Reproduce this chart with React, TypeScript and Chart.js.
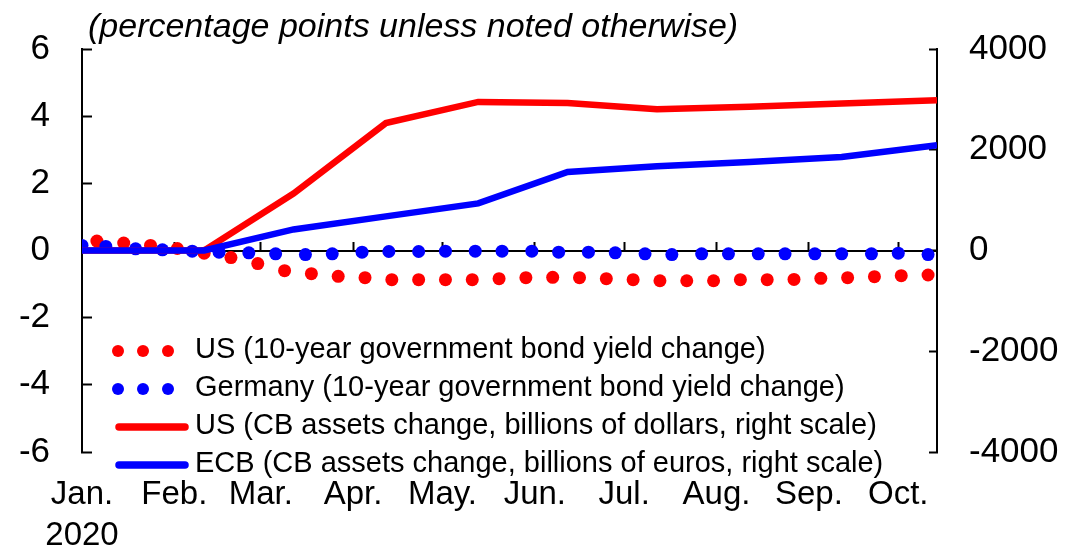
import React, { useEffect, useRef } from 'react';
import { Chart, registerables } from 'chart.js';

Chart.register(...registerables);

const FONT = '"Liberation Sans", Arial, Helvetica, sans-serif';

// X axis (days since 1 Jan 2020)
const monthStartDays = [0, 31, 60, 91, 121, 152, 182, 213, 244, 274];
const monthLabels = ['Jan.', 'Feb.', 'Mar.', 'Apr.', 'May.', 'Jun.', 'Jul.', 'Aug.', 'Sep.', 'Oct.'];
const yearLabel = '2020';
const xMinDay = 0;
const xMaxDay = 287;

// Axis ticks
const leftTicks = [-6, -4, -2, 0, 2, 4, 6];
const rightTicks = [-4000, -2000, 0, 2000, 4000];

const subtitle = '(percentage points unless noted otherwise)';

// US 10-year government bond yield change (percentage points)
const usYieldDays = [5, 14, 23, 32, 41, 50, 59, 68, 77, 86, 95, 104, 113, 122, 131, 140, 149, 158, 167, 176, 185, 194, 203, 212, 221, 230, 239, 248, 257, 266, 275, 284];
const usYieldChange = [0.28, 0.22, 0.15, 0.06, -0.08, -0.21, -0.39, -0.6, -0.69, -0.77, -0.81, -0.87, -0.87, -0.87, -0.87, -0.84, -0.81, -0.8, -0.81, -0.84, -0.87, -0.9, -0.9, -0.9, -0.87, -0.87, -0.86, -0.83, -0.81, -0.78, -0.75, -0.73];

// Germany 10-year government bond yield change (percentage points)
const deYieldDays = [0, 8, 18, 27, 37, 46, 56, 65, 75, 84, 94, 103, 113, 122, 132, 141, 151, 160, 170, 179, 189, 198, 208, 217, 227, 236, 246, 255, 265, 274, 284];
const deYieldChange = [0.15, 0.12, 0.05, 0.02, -0.02, -0.05, -0.07, -0.1, -0.12, -0.1, -0.05, -0.03, -0.03, -0.02, -0.02, -0.02, -0.02, -0.05, -0.05, -0.07, -0.1, -0.12, -0.1, -0.1, -0.1, -0.1, -0.1, -0.1, -0.1, -0.08, -0.12];

// Central bank assets change (right scale)
const cbDays = [0, 41, 71, 102, 133, 163, 193, 224, 255, 287];
const usCbAssetsChange = [0, 0, 1130, 2530, 2950, 2930, 2806, 2855, 2920, 2985];
const ecbAssetsChange = [0, 0, 418, 677, 935, 1559, 1672, 1757, 1857, 2090];

const seriesLabels = [
  'US (10-year government bond yield change)',
  'Germany (10-year government bond yield change)',
  'US (CB assets change, billions of dollars, right scale)',
  'ECB (CB assets change, billions of euros, right scale)',
];

const RED = '#ff0000';
const BLUE = '#0000ff';

const toPoints = (xs: number[], ys: number[]) => xs.map((x, i) => ({ x, y: ys[i] }));

const overlayPlugin = {
  id: 'overlay',
  afterDraw(chart: any) {
    const ctx = chart.ctx as CanvasRenderingContext2D;
    ctx.save();
    // subtitle
    ctx.fillStyle = '#000';
    ctx.font = `italic 34px ${FONT}`;
    ctx.textAlign = 'left';
    ctx.textBaseline = 'alphabetic';
    ctx.fillText(subtitle, 88, 37);

    // legend
    const rows = [351, 389, 427, 465];
    chart.data.datasets.forEach((ds: any, i: number) => {
      const y = rows[i];
      const color = ds.borderColor;
      if (ds.showLine === false) {
        ctx.fillStyle = color;
        [118, 143, 168].forEach((cx) => {
          ctx.beginPath();
          ctx.arc(cx, y, 6, 0, Math.PI * 2);
          ctx.fill();
        });
      } else {
        ctx.strokeStyle = color;
        ctx.lineWidth = 7.5;
        ctx.lineCap = 'round';
        ctx.beginPath();
        ctx.moveTo(119, y);
        ctx.lineTo(185, y);
        ctx.stroke();
      }
      ctx.fillStyle = '#000';
      ctx.font = `29px ${FONT}`;
      ctx.textBaseline = 'middle';
      ctx.fillText(ds.label, 195, y - 1);
    });
    ctx.restore();
  },
};

export default function App() {
  const canvasRef = useRef<HTMLCanvasElement | null>(null);

  useEffect(() => {
    const canvas = canvasRef.current;
    if (!canvas) return;
    const chart = new Chart(canvas, {
      type: 'line',
      data: {
        datasets: [
          {
            label: seriesLabels[0],
            data: toPoints(usYieldDays, usYieldChange),
            showLine: false,
            borderColor: RED,
            backgroundColor: RED,
            pointBackgroundColor: RED,
            pointBorderWidth: 0,
            pointRadius: 6.5,
            yAxisID: 'y',
            order: 3,
          },
          {
            label: seriesLabels[1],
            data: toPoints(deYieldDays, deYieldChange),
            showLine: false,
            borderColor: BLUE,
            backgroundColor: BLUE,
            pointBackgroundColor: BLUE,
            pointBorderWidth: 0,
            pointRadius: 6.5,
            yAxisID: 'y',
            order: 2,
          },
          {
            label: seriesLabels[2],
            data: toPoints(cbDays, usCbAssetsChange),
            borderColor: RED,
            backgroundColor: RED,
            borderWidth: 6.5,
            pointRadius: 0,
            tension: 0,
            fill: false,
            yAxisID: 'y2',
            order: 1,
          },
          {
            label: seriesLabels[3],
            data: toPoints(cbDays, ecbAssetsChange),
            borderColor: BLUE,
            backgroundColor: BLUE,
            borderWidth: 6.5,
            pointRadius: 0,
            tension: 0,
            fill: false,
            yAxisID: 'y2',
            order: 0,
          },
        ],
      },
      options: {
        responsive: false,
        animation: false,
        devicePixelRatio: 1,
        layout: { padding: { top: 49, left: 0, right: 0, bottom: 0 } },
        plugins: {
          legend: { display: false },
          tooltip: { enabled: false },
          title: { display: false },
        },
        scales: {
          x: {
            type: 'linear',
            position: 'bottom',
            min: xMinDay,
            max: xMaxDay,
            afterBuildTicks: (s: any) => {
              s.ticks = monthStartDays.map((v) => ({ value: v }));
            },
            afterFit: (s: any) => {
              s.height = 96;
              s.paddingLeft = 0;
              s.paddingRight = 0;
            },
            ticks: {
              autoSkip: false,
              maxRotation: 0,
              minRotation: 0,
              padding: 22,
              color: '#000',
              font: { family: FONT, size: 33, lineHeight: '41px' },
              callback: (value: any) => {
                const i = monthStartDays.indexOf(Number(value));
                if (i < 0) return '';
                return i === 0 ? [monthLabels[0], yearLabel] : monthLabels[i];
              },
            },
            grid: { display: false, drawTicks: false },
            border: { display: false },
          },
          x2: {
            type: 'linear',
            axis: 'x',
            position: { y: 0 },
            min: xMinDay,
            max: xMaxDay,
            afterBuildTicks: (s: any) => {
              s.ticks = monthStartDays.slice(1).map((v) => ({ value: v }));
            },
            afterFit: (s: any) => {
              s.paddingLeft = 0;
              s.paddingRight = 0;
            },
            ticks: { display: false },
            grid: {
              display: true,
              drawOnChartArea: false,
              drawTicks: true,
              tickLength: -10,
              tickColor: '#000',
              tickWidth: 2,
            },
            border: { display: true, color: '#000', width: 2 },
          },
          y: {
            type: 'linear',
            position: 'left',
            min: -6,
            max: 6,
            afterBuildTicks: (s: any) => {
              s.ticks = leftTicks.map((v) => ({ value: v }));
            },
            afterFit: (s: any) => {
              s.width = 82;
              s.paddingTop = 0;
              s.paddingBottom = 0;
            },
            ticks: {
              padding: 42,
              color: '#000',
              font: { family: FONT, size: 35 },
              callback: (v: any) => String(v),
            },
            grid: {
              drawOnChartArea: false,
              drawTicks: true,
              tickLength: -10,
              tickColor: '#000',
              tickWidth: 2,
            },
            border: { display: true, color: '#000', width: 2 },
          },
          y2: {
            type: 'linear',
            position: 'right',
            min: -4000,
            max: 4000,
            afterBuildTicks: (s: any) => {
              s.ticks = rightTicks.map((v) => ({ value: v }));
            },
            afterFit: (s: any) => {
              s.width = 128;
              s.paddingTop = 0;
              s.paddingBottom = 0;
            },
            ticks: {
              padding: 40,
              color: '#000',
              font: { family: FONT, size: 35 },
              callback: (v: any) => String(v),
            },
            grid: {
              drawOnChartArea: false,
              drawTicks: true,
              tickLength: -8,
              tickColor: '#000',
              tickWidth: 2,
            },
            border: { display: true, color: '#000', width: 2 },
          },
        },
      } as any,
      plugins: [overlayPlugin],
    });
    return () => chart.destroy();
  }, []);

  return (
    <div style={{ position: 'absolute', left: 0, top: 0, width: 1065, height: 548, background: '#fff' }}>
      <canvas ref={canvasRef} width={1065} height={548} style={{ display: 'block' }} />
    </div>
  );
}
